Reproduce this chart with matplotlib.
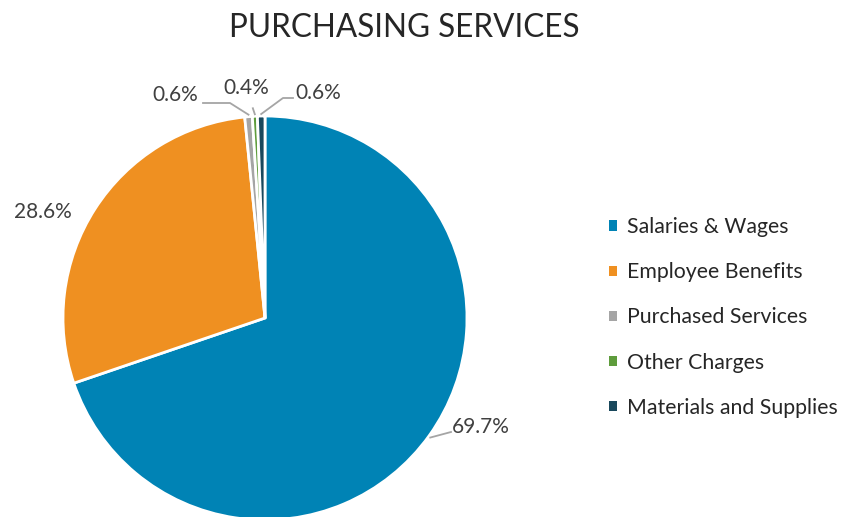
import numpy as np
import matplotlib
matplotlib.use("Agg")
import matplotlib.pyplot as plt

# chart data
categories = ["Salaries & Wages", "Employee Benefits", "Purchased Services",
              "Other Charges", "Materials and Supplies"]
shares = [69.7, 28.6, 0.6, 0.4, 0.6]
colors = ["#0083b5", "#ef9021", "#a5a5a5", "#5e9c3c", "#19485c"]
title = "PURCHASING SERVICES"

plt.rcParams["font.family"] = ["Lato", "DejaVu Sans"]

fig = plt.figure(figsize=(8.51, 5.17), dpi=100)
fig.set_facecolor("white")
# axes in pixel units so the pie sits where it does in the original
ax = fig.add_axes([0, 0, 1, 1])

cx, cy, r = 265, 199, 202
wedges, _ = ax.pie(shares, colors=colors, startangle=90, counterclock=False,
                   center=(cx, cy), radius=r, frame=True,
                   wedgeprops=dict(edgecolor="white", linewidth=2))
ax.set_xlim(0, 851)
ax.set_ylim(0, 517)
ax.axis("off")

# mid angles of each slice (degrees)
mids = [(w.theta1 + w.theta2) / 2 for w in wedges]


def edge(i, k=1.0):
    a = np.deg2rad(mids[i])
    return cx + k * r * np.cos(a), cy + k * r * np.sin(a)


fmt = lambda v: f"{v:.1f}%"
txt = dict(fontsize=15, color="#404040")
line = dict(color="#a5a5a5", lw=1.3)

# big slices
x0, y0 = edge(0)
ax.plot([x0 + 1, 451], [y0 - 2, 85], **line)
ax.text(452, 90, fmt(shares[0]), ha="left", va="center", **txt)
ax.text(72, 305, fmt(shares[1]), ha="right", va="center", **txt)

# small slices at the top
x2, y2 = edge(2)
ax.plot([x2, 230, 203], [y2 + 2, 414, 414], **line)
ax.text(198, 422, fmt(shares[2]), ha="right", va="center", **txt)
x3, y3 = edge(3)
ax.plot([x3, x3 - 2], [y3 + 2, y3 + 8], **line)
ax.text(246, 429, fmt(shares[3]), ha="center", va="center", **txt)
x4, y4 = edge(4)
ax.plot([x4, 283, 293], [y4 + 2, 419, 419], **line)
ax.text(295, 424, fmt(shares[4]), ha="left", va="center", **txt)

fig.text(0.475, 0.946, title, ha="center", va="center", fontsize=22.7,
         color="#262626")

leg = fig.legend(wedges, categories, loc="center left",
                 bbox_to_anchor=(0.693, 0.386), frameon=False, fontsize=15.3,
                 handlelength=0.38, handleheight=0.38, handletextpad=0.45,
                 labelspacing=1.18, labelcolor="#262626")
for h in leg.legend_handles:
    h.set_edgecolor("none")

plt.savefig("out.png", dpi=100, facecolor="white")
